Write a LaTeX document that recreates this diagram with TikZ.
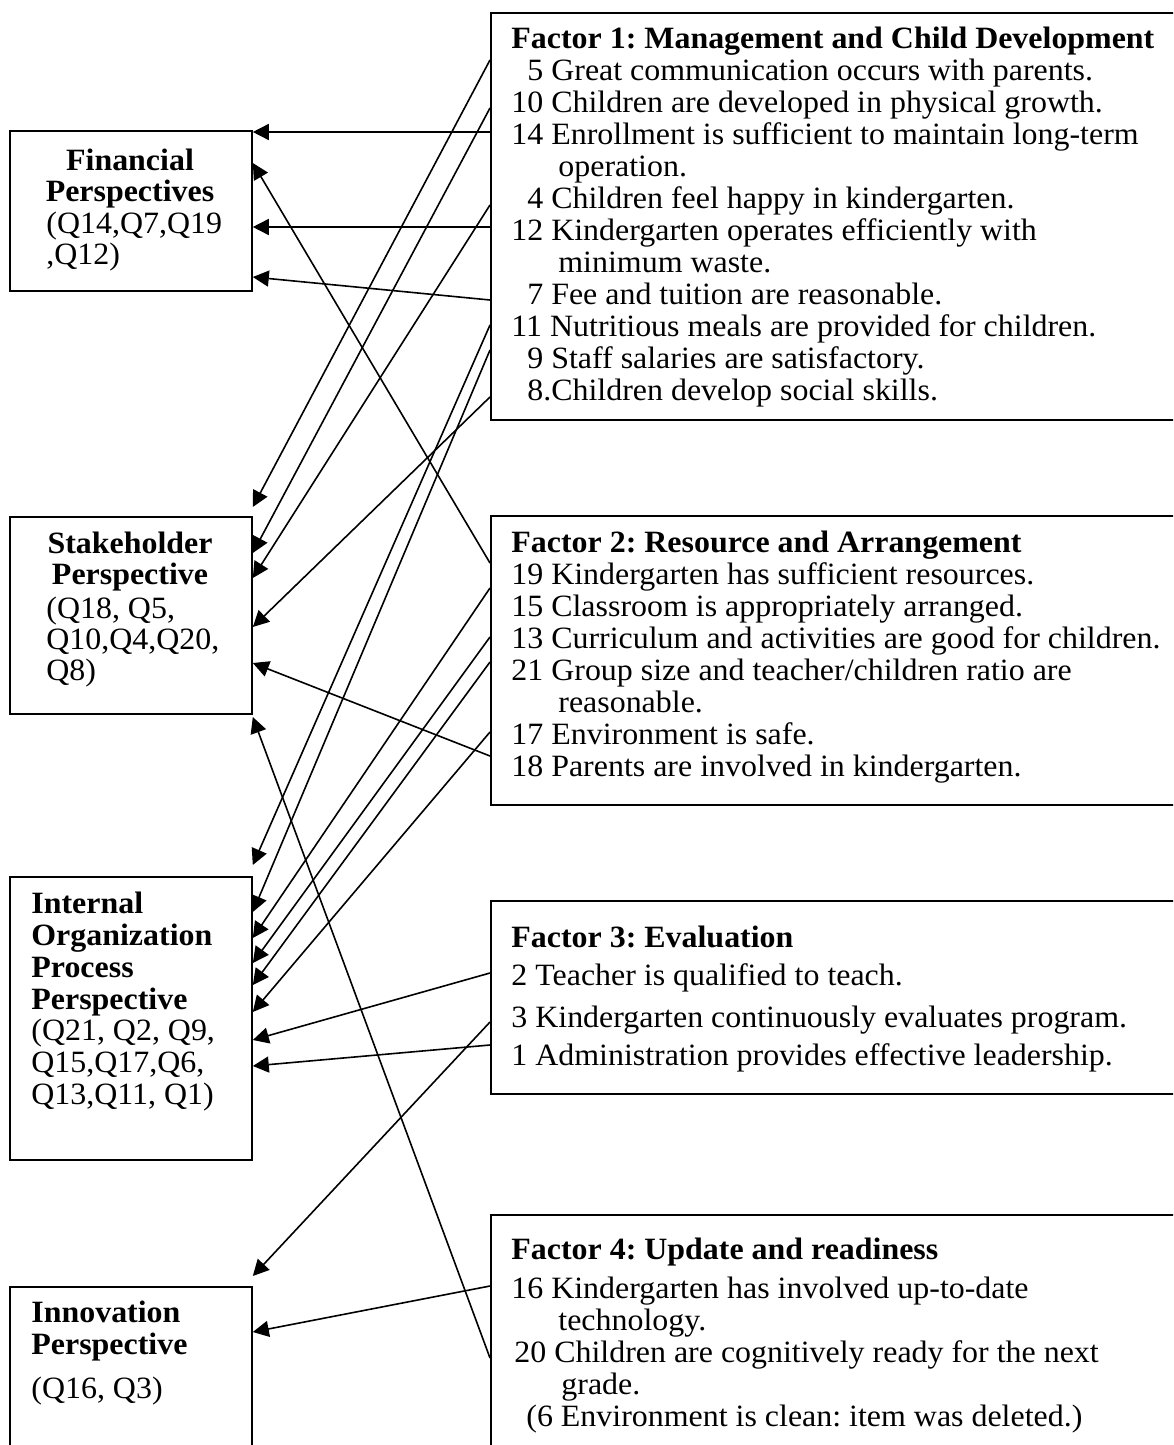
\documentclass[tikz,border=0pt]{standalone}
\usepackage{fontspec}
\setmainfont{Liberation Serif}[FakeStretch=1.03]
\usetikzlibrary{arrows.meta,positioning}

\tikzset{
  box/.style={draw, line width=0.9pt, inner sep=0pt, anchor=north west},
  itemtext/.style={inner sep=0pt, align=left, anchor=north west, font=\fontsize{15.5}{16}\selectfont},
  ptitle/.style={inner sep=0pt, align=center, anchor=north, font=\fontsize{15.5}{15.5}\selectfont\bfseries},
  plist/.style={inner sep=0pt, align=left, anchor=north west, font=\fontsize{15.5}{15.5}\selectfont},
  arr/.style={-{Triangle[length=8pt,width=8pt]}, line width=0.8pt},
}

\begin{document}
\frenchspacing
\begin{tikzpicture}[x=0.5pt,y=-0.5pt]
\useasboundingbox (0,0) rectangle (1173,1445);
\clip (0,0) rectangle (1173,1445);

% perspectives (left)
\node[box, minimum width=121pt, minimum height=80pt] (fin) at (9,130) {};
\node[box, minimum width=121pt, minimum height=98.5pt] (stake) at (9,516) {};
\node[box, minimum width=121pt, minimum height=141.5pt] (intern) at (9,876) {};
\node[box, minimum width=121pt, minimum height=90pt] (innov) at (9,1286) {};

\node[ptitle] (fint) at (130,149) {Financial\\Perspectives};
\node[plist] (finq) at (46,212) {(Q14,Q7,Q19\\,Q12)};
\node[ptitle] (staket) at (130,532) {Stakeholder\\Perspective};
\node[plist] (stakeq) at (46,597) {(Q18, Q5,\\Q10,Q4,Q20,\\Q8)};
\node[plist, font=\fontsize{15.5}{16}\selectfont\bfseries] (internt) at (31,892) {Internal\\Organization\\Process\\Perspective};
\node[plist, font=\fontsize{15.5}{16}\selectfont] (internq) at (31,1019) {(Q21, Q2, Q9,\\Q15,Q17,Q6,\\Q13,Q11, Q1)};
\node[plist, font=\fontsize{15.5}{16}\selectfont\bfseries] (innovt) at (31,1301) {Innovation\\Perspective};
\node[plist] (innovq) at (31,1377) {(Q16, Q3)};

% factors (right)
\node[box, minimum width=350pt, minimum height=203.5pt] (f1) at (490,12) {};
\node[box, minimum width=350pt, minimum height=144.5pt] (f2) at (490,515) {};
\node[box, minimum width=350pt, minimum height=96.5pt] (f3) at (490,900) {};
\node[box, minimum width=350pt, minimum height=125pt] (f4) at (490,1214) {};

\node[itemtext] (f1t) at (511,27) {\textbf{Factor 1: Management and Child Development}\\
\phantom{1}5 Great communication occurs with parents.\\
10 Children are developed in physical growth.\\
14 Enrollment is sufficient to maintain long-term\\
\hspace*{23.5pt}operation.\\
\phantom{1}4 Children feel happy in kindergarten.\\
12 Kindergarten operates efficiently with\\
\hspace*{23.5pt}minimum waste.\\
\phantom{1}7 Fee and tuition are reasonable.\\
11 Nutritious meals are provided for children.\\
\phantom{1}9 Staff salaries are satisfactory.\\
\phantom{1}8.Children develop social skills.};

\node[itemtext] (f2t) at (511,531) {\textbf{Factor 2: Resource and Arrangement}\\
19 Kindergarten has sufficient resources.\\
15 Classroom is appropriately arranged.\\
13 Curriculum and activities are good for children.\\
21 Group size and teacher/children ratio are\\
\hspace*{23.5pt}reasonable.\\
17 Environment is safe.\\
18 Parents are involved in kindergarten.};

\node[itemtext, font=\fontsize{15.5}{19}\selectfont] (f3t) at (511,926) {\textbf{Factor 3: Evaluation}\\
2 Teacher is qualified to teach.\\[2pt]
3 Kindergarten continuously evaluates program.\\
1 Administration provides effective leadership.};

\node[itemtext] (f4t) at (511,1238) {\textbf{Factor 4: Update and readiness}\\[3.5pt]
16 Kindergarten has involved up-to-date\\
\hspace*{23.5pt}technology.\\
\hspace*{1.5pt}20 Children are cognitively ready for the next\\
\hspace*{25pt}grade.\\
\hspace*{7.5pt}(6 Environment is clean: item was deleted.)};

% factor items -> perspectives
\draw[arr] (f1.west |- 0,132) -- (fin.east |- 0,132);
\draw[arr] (f2.west |- 0,563) -- (fin.east |- 0,163);
\draw[arr] (f1.west |- 0,227) -- (fin.east |- 0,227);
\draw[arr] (f1.west |- 0,300) -- (fin.east |- 0,277);

\draw[arr] (f1.west |- 0,60) -- (stake.east |- 0,507);
\draw[arr] (f1.west |- 0,108) -- (stake.east |- 0,553);
\draw[arr] (f1.west |- 0,205) -- (stake.east |- 0,578);
\draw[arr] (f1.west |- 0,397) -- (stake.east |- 0,627);
\draw[arr] (f2.west |- 0,756) -- (stake.east |- 0,663);
\draw[arr] (f4.west |- 0,1358) -- (stake.east |- 0,717);

\draw[arr] (f1.west |- 0,325) -- (intern.east |- 0,865);
\draw[arr] (f1.west |- 0,350) -- (intern.east |- 0,912);
\draw[arr] (f2.west |- 0,588) -- (intern.east |- 0,938);
\draw[arr] (f2.west |- 0,637) -- (intern.east |- 0,963);
\draw[arr] (f2.west |- 0,662) -- (intern.east |- 0,985);
\draw[arr] (f2.west |- 0,732) -- (intern.east |- 0,1012);
\draw[arr] (f3.west |- 0,973) -- (intern.east |- 0,1040);
\draw[arr] (f3.west |- 0,1045) -- (intern.east |- 0,1066);

\draw[arr] (f3.west |- 0,1022) -- (innov.east |- 0,1276);
\draw[arr] (f4.west |- 0,1286) -- (innov.east |- 0,1332);
\end{tikzpicture}
\end{document}
